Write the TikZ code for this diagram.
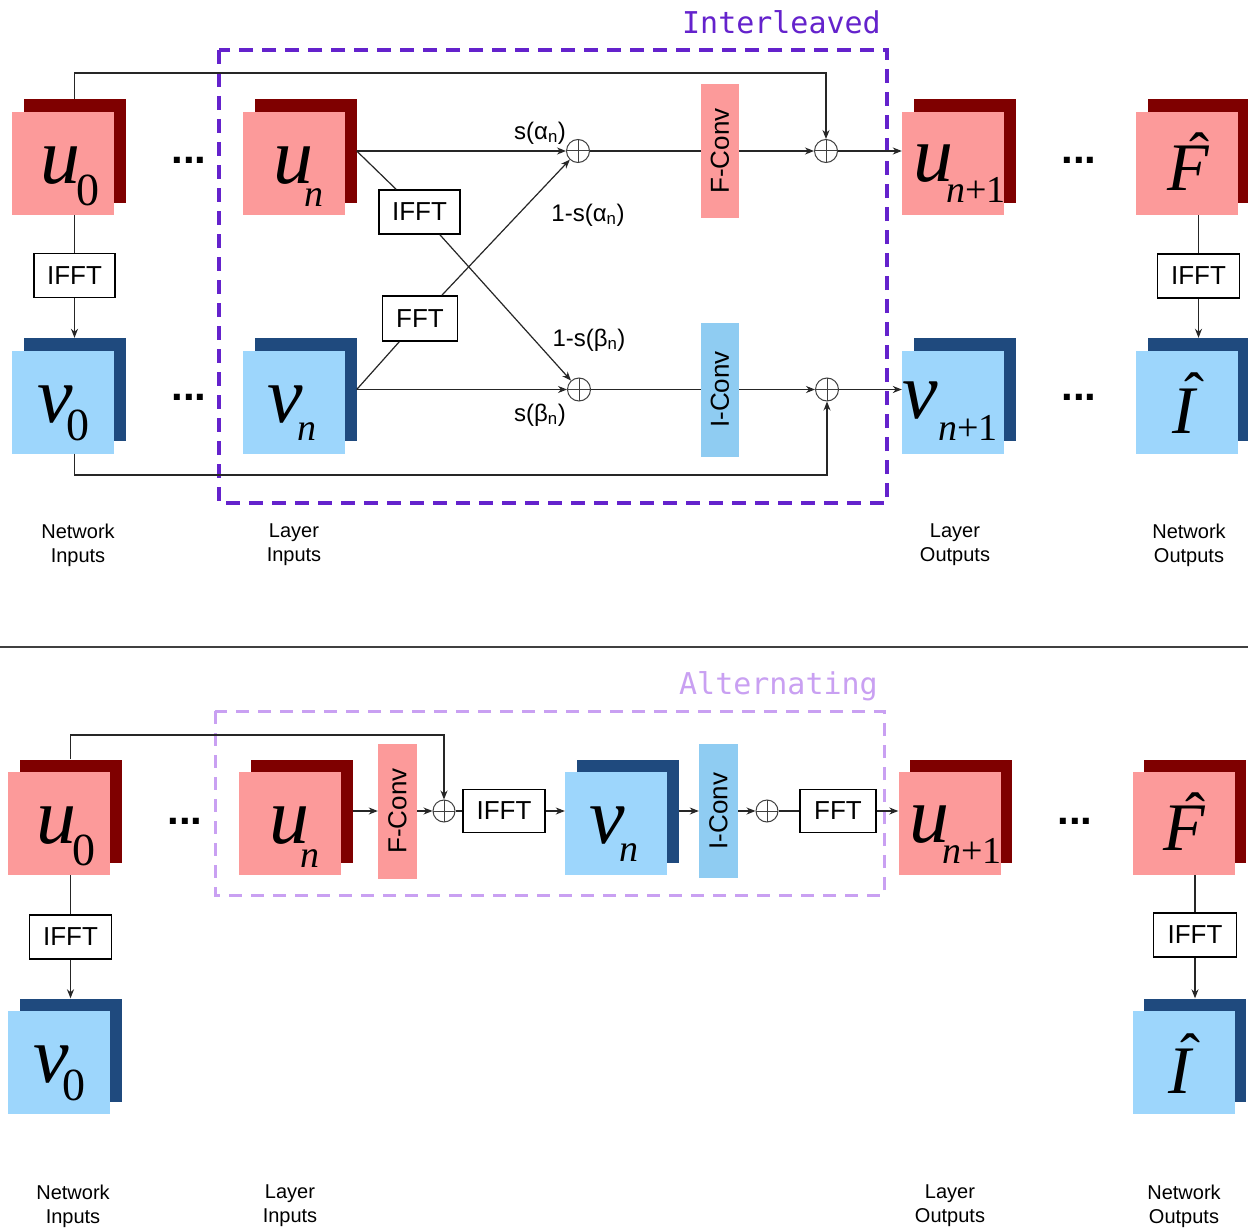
\documentclass[tikz,border=0pt]{standalone}
\usepackage{fontspec}
\setmainfont{Liberation Sans}
\newfontfamily\symfont{Liberation Serif}
\newfontfamily\monofont{DejaVu Sans Mono}
\usetikzlibrary{arrows.meta}
\definecolor{pinkf}{HTML}{FC9A9A}
\definecolor{maroonb}{HTML}{7F0000}
\definecolor{bluef}{HTML}{9DD6FC}
\definecolor{navyb}{HTML}{1F4A7E}
\definecolor{convblue}{HTML}{8FCCF2}
\definecolor{ipurple}{HTML}{6422CC}
\definecolor{alav}{HTML}{C9A0F2}
\newcommand{\symL}[1]{\fontsize{80}{80}\selectfont\symfont\itshape #1}
\newcommand{\symM}[1]{\fontsize{68}{68}\selectfont\symfont\itshape #1}
\newcommand{\symS}[2]{\fontsize{#1}{#1}\selectfont\symfont #2}
\newcommand{\ublock}[3]{%
  \node[blk, fill=maroonb] (#1b) at (#2+11.5,#3-12.5) {};
  \node[blk, fill=pinkf] (#1) at (#2,#3) {};}
\newcommand{\vblock}[3]{%
  \node[blk, fill=navyb] (#1b) at (#2+11.5,#3-12.5) {};
  \node[blk, fill=bluef] (#1) at (#2,#3) {};}
\begin{document}
\begin{tikzpicture}[x=1pt,y=-1pt,
  blk/.style={rectangle, minimum width=102pt, minimum height=103pt, inner sep=0pt, draw=none},
  tbox/.style={rectangle, draw=black, line width=1.4pt, fill=white, font=\fontsize{26}{26}\selectfont, inner sep=0pt, minimum height=44pt},
  conv/.style={rectangle, rotate=90, minimum width=134pt, minimum height=38pt, inner sep=0pt, font=\fontsize{26}{26}\selectfont},
  opl/.style={circle, draw=black!75, line width=1pt, minimum size=23pt, inner sep=0pt,
    path picture={\draw[black!75, line width=1pt] (path picture bounding box.north) -- (path picture bounding box.south) (path picture bounding box.west) -- (path picture bounding box.east);}},
  ln/.style={line width=1.2pt, draw=black!85},
  arr/.style={ln, -{Stealth[length=9pt,width=7pt]}},
  dots/.style={font=\fontsize{42}{42}\selectfont\bfseries, inner sep=0pt},
  capt/.style={align=center, font=\fontsize{20}{24}\selectfont, inner sep=0pt},
  lab/.style={font=\fontsize{24}{24}\selectfont, inner sep=0pt},
  lbl/.style={anchor=base west, inner sep=0pt, outer sep=0pt},
  hat/.style={inner sep=0pt},
  ibox/.style={draw=ipurple, line width=3.5pt, dash pattern=on 14pt off 9pt},
  abox/.style={draw=alav, line width=3pt, dash pattern=on 13pt off 9pt}]
\useasboundingbox (0,0) rectangle (1248,1228);
\fill[white] (0,0) rectangle (1248,1228);

% ================= TOP: Interleaved =================
\draw[ibox] (219,50) rectangle (887,503);
\node[anchor=base east, inner sep=0pt, text=ipurple, font=\fontsize{30}{30}\selectfont\monofont] (tInter) at (881,34) {Interleaved};

\ublock{u0}{63}{163.5}
\vblock{v0}{63}{402}
\ublock{un}{294}{163.5}
\vblock{vn}{294}{402}
\ublock{u1}{953}{163.5}
\vblock{v1}{953}{402}
\ublock{F}{1187}{163.5}
\vblock{I}{1187}{402}

% labels
\node[lbl] (u0l) at ([shift={(-23,19.5)}]u0.center) {\symL{u}};
\node[lbl] (u0s) at ([shift={(13,41.5)}]u0.center) {\symS{46}{0}};
\node[lbl] (unl) at ([shift={(-21,19.5)}]un.center) {\symL{u}};
\node[lbl] (uns) at ([shift={(10,43.5)}]un.center) {\symS{38}{\itshape n}};
\node[lbl] (u1l) at ([shift={(-40,18.5)}]u1.center) {\symL{u}};
\node[lbl] (u1s) at ([shift={(-7,39.5)}]u1.center) {\symS{38}{{\itshape n}+1}};
\node[lbl] (Fl) at ([shift={(-20,27)}]F.center) {\symM{F}};
\node[hat] (Fh) at ([shift={(12,-10)}]F.center) {\symS{60}{ˆ}};
\node[lbl] (v0l) at ([shift={(-26,20)}]v0.center) {\symL{v}};
\node[lbl] (v0s) at ([shift={(3,38)}]v0.center) {\symS{46}{0}};
\node[lbl] (vnl) at ([shift={(-27,20)}]vn.center) {\symL{v}};
\node[lbl] (vns) at ([shift={(3,38)}]vn.center) {\symS{38}{\itshape n}};
\node[lbl] (v1l) at ([shift={(-51,16)}]v1.center) {\symL{v}};
\node[lbl] (v1s) at ([shift={(-15,38)}]v1.center) {\symS{38}{{\itshape n}+1}};
\node[lbl] (Il) at ([shift={(-15,31)}]I.center) {\symM{I}};
\node[hat] (Ih) at ([shift={(7,-8)}]I.center) {\symS{60}{ˆ}};

% dots
\node[dots] (d1) at (189,160.5) {...};
\node[dots] (d2) at (189,397) {...};
\node[dots] (d3) at (1079,160.5) {...};
\node[dots] (d4) at (1079,397) {...};

% boxes
\node[tbox, minimum width=81pt] (ifft0) at (74.5,275.5) {IFFT};
\node[tbox, minimum width=82pt] (ifft1) at (1198.5,276) {IFFT};
\node[tbox, minimum width=81pt] (iffti) at (419.5,212) {IFFT};
\node[tbox, minimum width=75pt, minimum height=45pt] (ffti) at (420,318.5) {FFT};
\node[conv, fill=pinkf] (fconv) at (720,151) {F-Conv};
\node[conv, fill=convblue] (iconv) at (720,389.5) {I-Conv};

\node[opl] (op1) at (578,151) {};
\node[opl] (op2) at (826,151) {};
\node[opl] (op3) at (579,389.5) {};
\node[opl] (op4) at (827,389.5) {};

% connectors
\draw[arr] (u0b.north) -- (u0b.north |- 0,73) -| (op2.north);
\draw[arr] (v0b.center |- v0.south) -- (v0b.center |- 0,475) -| (op4.south);
\draw[ln] (u0b.center |- u0.south) -- (ifft0);
\draw[arr] (ifft0) -- (v0b.north);
\draw[ln] (Fb.center |- F.south) -- (ifft1);
\draw[arr] (ifft1) -- (Ib.north);

\draw[arr] (unb.east) -- (op1.west);
\draw[ln] (unb.east) -- (iffti);
\draw[arr] (iffti) -- (op3);
\draw[arr] (vnb.east) -- (op3.west);
\draw[ln] (vnb.east) -- (ffti);
\draw[arr] (ffti) -- (op1);
\draw[ln] (op1) -- (fconv);
\draw[arr] (fconv) -- (op2);
\draw[ln] (op3) -- (iconv);
\draw[arr] (iconv) -- (op4);
\draw[arr] (op2.east) -- (op2.east -| u1.west);
\draw[arr] (op4.east) -- (op4.east -| v1.west);

\node[lab] (la) at (540,133) {s(α\textsubscript{n})};
\node[lab] (lb) at (588,215) {1-s(α\textsubscript{n})};
\node[lab] (lc) at (589,340) {1-s(β\textsubscript{n})};
\node[lab] (ld) at (540,415) {s(β\textsubscript{n})};

\node[capt] (c1) at (78,545) {Network\\Inputs};
\node[capt] (c2) at (294,545) {Layer\\Inputs};
\node[capt] (c3) at (955,545) {Layer\\Outputs};
\node[capt] (c4) at (1189,545) {Network\\Outputs};

% separator
\draw[line width=2pt, draw=black!75] (0,647) -- (1248,647);

% ================= BOTTOM: Alternating =================
\draw[abox] (215,711) rectangle (884,895);
\node[anchor=base east, inner sep=0pt, text=alav, font=\fontsize{30}{30}\selectfont\monofont] (tAlt) at (878,694) {Alternating};

\ublock{bu0}{59}{823.5}
\vblock{bv0}{59}{1062.5}
\ublock{bun}{290}{823.5}
\vblock{bvn}{616}{823.5}
\ublock{bu1}{949.5}{823.5}
\ublock{bF}{1183.5}{823.5}
\vblock{bI}{1183.5}{1062.5}

\node[lbl] (bu0l) at ([shift={(-23,19.5)}]bu0.center) {\symL{u}};
\node[lbl] (bu0s) at ([shift={(13,41.5)}]bu0.center) {\symS{46}{0}};
\node[lbl] (bunl) at ([shift={(-21,19.5)}]bun.center) {\symL{u}};
\node[lbl] (buns) at ([shift={(10,43.5)}]bun.center) {\symS{38}{\itshape n}};
\node[lbl] (bvnl) at ([shift={(-27,20)}]bvn.center) {\symL{v}};
\node[lbl] (bvns) at ([shift={(3,38)}]bvn.center) {\symS{38}{\itshape n}};
\node[lbl] (bu1l) at ([shift={(-40,18.5)}]bu1.center) {\symL{u}};
\node[lbl] (bu1s) at ([shift={(-7,39.5)}]bu1.center) {\symS{38}{{\itshape n}+1}};
\node[lbl] (bFl) at ([shift={(-20,27)}]bF.center) {\symM{F}};
\node[hat] (bFh) at ([shift={(12,-10)}]bF.center) {\symS{60}{ˆ}};
\node[lbl] (bv0l) at ([shift={(-26,20)}]bv0.center) {\symL{v}};
\node[lbl] (bv0s) at ([shift={(3,38)}]bv0.center) {\symS{46}{0}};
\node[lbl] (bIl) at ([shift={(-15,31)}]bI.center) {\symM{I}};
\node[hat] (bIh) at ([shift={(7,-8)}]bI.center) {\symS{60}{ˆ}};

\node[dots] (bd1) at (185,821) {...};
\node[dots] (bd2) at (1075,821) {...};

\node[tbox, minimum width=82pt, minimum height=44pt] (bifft0) at (70.5,937) {IFFT};
\node[tbox, minimum width=83pt, minimum height=44pt] (bifft1) at (1195,935) {IFFT};
\node[conv, fill=pinkf, minimum width=135pt, minimum height=39pt] (bfconv) at (397.5,811) {F-Conv};
\node[conv, fill=convblue, minimum width=134pt, minimum height=39pt] (biconv) at (718.5,811) {I-Conv};
\node[opl, minimum size=22pt] (bop1) at (444,811) {};
\node[opl, minimum size=22pt] (bop2) at (767,811) {};
\node[tbox, minimum width=82pt, minimum height=43pt] (bifft) at (504,811) {IFFT};
\node[tbox, minimum width=76pt, minimum height=43pt] (bfft) at (838,811) {FFT};

\draw[arr] (bu0b.north) -- (bu0b.north |- 0,735) -| (bop1.north);
\draw[ln] (bu0b.center |- bu0.south) -- (bifft0);
\draw[arr] (bifft0) -- (bv0b.north);
\draw[ln] (bFb.center |- bF.south) -- (bifft1);
\draw[arr] (bifft1) -- (bIb.north);

\draw[arr] (bunb.east) -- (bfconv);
\draw[arr] (bfconv) -- (bop1);
\draw[ln] (bop1) -- (bifft);
\draw[arr] (bifft.east) -- (bifft.east -| bvn.west);
\draw[arr] (bvnb.east) -- (biconv);
\draw[arr] (biconv) -- (bop2);
\draw[ln] (bop2) -- (bfft);
\draw[arr] (bfft.east) -- (bfft.east -| bu1.west);

\node[capt] (bc1) at (73,1206) {Network\\Inputs};
\node[capt] (bc2) at (290,1206) {Layer\\Inputs};
\node[capt] (bc3) at (950,1206) {Layer\\Outputs};
\node[capt] (bc4) at (1184,1206) {Network\\Outputs};
\end{tikzpicture}
\end{document}
